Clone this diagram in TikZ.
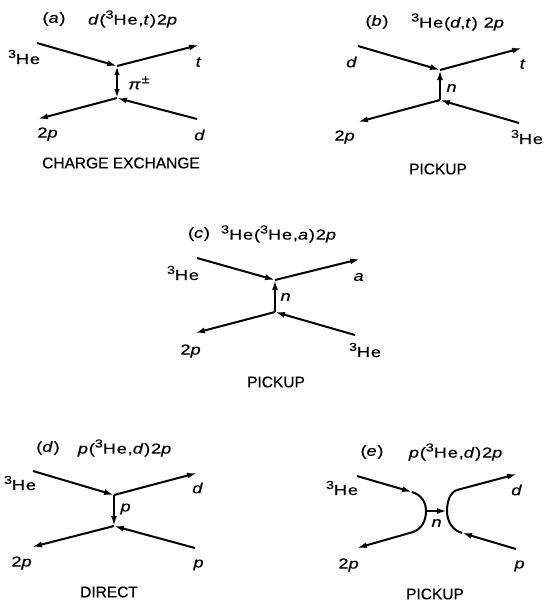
\documentclass[tikz,border=0pt]{standalone}
\usepackage{fontspec}
\setmainfont{Liberation Sans}[FakeBold=0.4]
\newfontfamily\lblfam[FakeStretch=1.25,LetterSpace=6,FakeBold=0.5]{Liberation Sans}
\newcommand\lblfont{\lblfam\fontsize{14.5}{15}\selectfont}
\newcommand\capfont{\fontsize{15.5}{16}\selectfont}
\newcommand\myiso[1]{\raisebox{0.42em}{\fontsize{11.5}{12}\selectfont #1}}
\usetikzlibrary{arrows.meta}
\tikzset{
  ln/.style={line width=2pt},
  tipend/.style={-{Latex[length=10pt,width=6pt]}},
  tipboth/.style={{Latex[length=9pt,width=5.5pt]}-{Latex[length=9pt,width=5.5pt]}},
  lab/.style={font=\lblfont, inner sep=0pt},
  captext/.style={font=\capfont, inner sep=0pt},
}
\begin{document}
\begin{tikzpicture}[x=1pt,y=-1pt]
\path[use as bounding box] (0,0) rectangle (544,603);

% ---------- (a) ----------
\node[lab] (ta1) at (54,19) {(\textit{a})};
\node[lab] (ta2) at (133,19) {\textit{d}(\myiso{3}He,\textit{t})2\textit{p}};
\coordinate (a1) at (37,43);
\coordinate (av1) at (117,66);
\coordinate (a2) at (199,45);
\coordinate (av2) at (117,98);
\coordinate (a3) at (38,119);
\coordinate (a4) at (197,119);
\draw[ln,tipend] (a1) -- (av1);
\draw[ln,tipend] (av1) -- (a2);
\draw[ln,tipend] (av2) -- (a3);
\draw[ln,tipend] (a4) -- (av2);
\draw[ln,tipboth] (av1) -- (av2);
\node[lab] (la1) at (24,57) {\myiso{3}He};
\node[lab] (la2) at (199,62) {\textit{t}};
\node[lab] (la3) at (139,83) {\textit{π}\myiso{±}};
\node[lab] (la4) at (48,134) {2\textit{p}};
\node[lab] (la5) at (200,135) {\textit{d}};
\node[captext] (ca) at (121,163) {CHARGE EXCHANGE};

% ---------- (b) ----------
\node[lab] (tb1) at (377,22) {(\textit{b})};
\node[lab] (tb2) at (458,22) {\myiso{3}He(\textit{d},\textit{t}) 2\textit{p}};
\coordinate (b1) at (358,46);
\coordinate (bv1) at (440,70);
\coordinate (b2) at (522,48);
\coordinate (bv2) at (440,100);
\coordinate (b3) at (358,122);
\coordinate (b4) at (519,123);
\draw[ln,tipend] (b1) -- (bv1);
\draw[ln,tipend] (bv1) -- (b2);
\draw[ln,tipend] (bv2) -- (b3);
\draw[ln,tipend] (b4) -- (bv2);
\draw[ln,tipend] (bv2) -- (bv1);
\node[lab] (lb1) at (352,62) {\textit{d}};
\node[lab] (lb2) at (523,64) {\textit{t}};
\node[lab] (lb3) at (452,88) {\textit{n}};
\node[lab] (lb4) at (345,137) {2\textit{p}};
\node[lab] (lb5) at (527,137) {\myiso{3}He};
\node[captext] (cb) at (438,169) {PICKUP};

% ---------- (c) ----------
\node[lab] (tc1) at (199,234) {(\textit{c})};
\node[lab] (tc2) at (279,234) {\myiso{3}He(\myiso{3}He,\textit{a})2\textit{p}};
\coordinate (c1) at (197,258);
\coordinate (cv1) at (275,280);
\coordinate (c2) at (360,259);
\coordinate (cv2) at (275,312);
\coordinate (c3) at (195,333);
\coordinate (c4) at (355,335);
\draw[ln,tipend] (c1) -- (cv1);
\draw[ln,tipend] (cv1) -- (c2);
\draw[ln,tipend] (cv2) -- (c3);
\draw[ln,tipend] (c4) -- (cv2);
\draw[ln,tipend] (cv2) -- (cv1);
\node[lab] (lc1) at (183,273) {\myiso{3}He};
\node[lab] (lc2) at (359,277) {\textit{a}};
\node[lab] (lc3) at (286,297) {\textit{n}};
\node[lab] (lc4) at (191,351) {2\textit{p}};
\node[lab] (lc5) at (365,350) {\myiso{3}He};
\node[captext] (cc) at (276,382) {PICKUP};

% ---------- (d) ----------
\node[lab] (td1) at (48,448) {(\textit{d})};
\node[lab] (td2) at (125,448) {\textit{p}(\myiso{3}He,\textit{d})2\textit{p}};
\coordinate (d1) at (33,471);
\coordinate (dv1) at (114,495);
\coordinate (d2) at (197,473);
\coordinate (dv2) at (114,526);
\coordinate (d3) at (32,547);
\coordinate (d4) at (195,548);
\draw[ln,tipend] (d1) -- (dv1);
\draw[ln,tipend] (dv1) -- (d2);
\draw[ln,tipend] (dv2) -- (d3);
\draw[ln,tipend] (d4) -- (dv2);
\draw[ln,tipend] (dv1) -- (dv2);
\node[lab] (ld1) at (20,483) {\myiso{3}He};
\node[lab] (ld2) at (198,488) {\textit{d}};
\node[lab] (ld3) at (126,509) {\textit{p}};
\node[lab] (ld4) at (22,563) {2\textit{p}};
\node[lab] (ld5) at (199,565) {\textit{p}};
\node[captext] (cd) at (109,592) {DIRECT};

% ---------- (e) ----------
\node[lab] (te1) at (372,452) {(\textit{e})};
\node[lab] (te2) at (456,452) {\textit{p}(\myiso{3}He,\textit{d})2\textit{p}};
\coordinate (e1) at (357,476);
\coordinate (eA1) at (412,492);
\coordinate (eAm) at (426,511);
\coordinate (eA2) at (413,532);
\coordinate (e3) at (357,548);
\coordinate (eB1) at (457,490);
\coordinate (eBm) at (447,511);
\coordinate (eB2) at (462,533);
\coordinate (e2) at (517,474);
\coordinate (e4) at (516,549);
\draw[ln,tipend] (e1) -- (eA1);
\draw[ln] (eA1) .. controls (422,495) and (426,503) .. (eAm)
               .. controls (426,520) and (422,529) .. (eA2);
\draw[ln,tipend] (eA2) -- (e3);
\draw[ln] (eB1) .. controls (450,492) and (447,502) .. (eBm)
               .. controls (447,521) and (452,530) .. (eB2);
\draw[ln,tipend] (eB1) -- (e2);
\draw[ln,tipend] (e4) -- (eB2);
\draw[ln,tipend] (eAm) -- (eBm);
\node[lab] (le1) at (342,488) {\myiso{3}He};
\node[lab] (le2) at (517,490) {\textit{d}};
\node[lab] (le3) at (437,523) {\textit{n}};
\node[lab] (le4) at (349,565) {2\textit{p}};
\node[lab] (le5) at (520,566) {\textit{p}};
\node[captext] (ce) at (435,594) {PICKUP};
\end{tikzpicture}
\end{document}
